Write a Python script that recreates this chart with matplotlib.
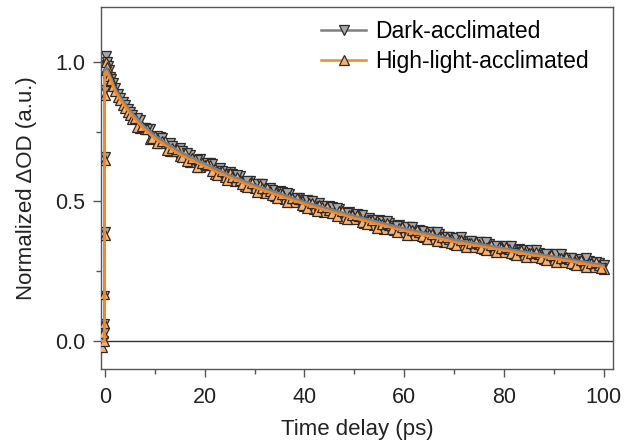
import numpy as np
import matplotlib
matplotlib.use("Agg")
import matplotlib.pyplot as plt
from matplotlib.lines import Line2D

plt.rcParams["font.family"] = ["Liberation Sans", "DejaVu Sans"]

# ─── Data ─────────────────────────────────────────────────────────────────────

t_early = [-0.8, -0.6, -0.4, -0.3, -0.2, -0.15, -0.1, -0.05, 0.0, 0.1, 0.2, 0.3,
           0.5, 0.7, 1.0, 1.2, 1.5, 2.0, 2.5, 3.0, 3.5, 4.0, 4.5, 5.0, 5.5]
dark_early = [-0.02, 0.02, 0.0, 0.03, 0.06, 0.16, 0.39, 0.66, 0.90, 0.99, 1.02, 1.00,
              0.985, 0.97, 0.945, 0.94, 0.925, 0.905, 0.885, 0.87, 0.855, 0.845, 0.83,
              0.82, 0.81]
hl_early = [0.01, -0.02, 0.03, 0.0, 0.065, 0.17, 0.38, 0.65, 0.88, 0.97, 1.00, 0.98,
            0.96, 0.95, 0.93, 0.935, 0.915, 0.895, 0.875, 0.865, 0.845, 0.835, 0.82,
            0.81, 0.795]

t_main = [6, 7, 8, 9, 10, 11, 12, 13, 14, 15, 16, 17, 18, 19, 20, 21, 22, 23, 24, 25,
          26, 27, 28, 29, 30, 31, 32, 33, 34, 35, 36, 37, 38, 39, 40, 41, 42, 43, 44, 45,
          46, 47, 48, 49, 50, 51, 52, 53, 54, 55, 56, 57, 58, 59, 60, 61, 62, 63, 64, 65,
          66, 67, 68, 69, 70, 71, 72, 73, 74, 75, 76, 77, 78, 79, 80, 81, 82, 83, 84, 85,
          86, 87, 88, 89, 90, 91, 92, 93, 94, 95, 96, 97, 98, 99, 100]
dark_main = [0.796, 0.790, 0.762, 0.760, 0.730, 0.729, 0.705, 0.708, 0.684, 0.690,
             0.665, 0.668, 0.647, 0.651, 0.628, 0.636, 0.613, 0.619, 0.598, 0.604,
             0.583, 0.590, 0.569, 0.574, 0.556, 0.562, 0.545, 0.549, 0.532, 0.539,
             0.520, 0.526, 0.509, 0.513, 0.498, 0.503, 0.488, 0.493, 0.477, 0.483,
             0.468, 0.472, 0.458, 0.462, 0.447, 0.452, 0.438, 0.442, 0.429, 0.433,
             0.418, 0.424, 0.411, 0.414, 0.402, 0.407, 0.394, 0.398, 0.386, 0.391,
             0.378, 0.383, 0.371, 0.374, 0.362, 0.368, 0.356, 0.359, 0.350, 0.354,
             0.343, 0.346, 0.337, 0.341, 0.331, 0.334, 0.325, 0.328, 0.319, 0.322,
             0.313, 0.316, 0.307, 0.310, 0.301, 0.304, 0.295, 0.298, 0.289, 0.292,
             0.283, 0.286, 0.277, 0.280, 0.271]
hl_main = [0.800, 0.762, 0.759, 0.725, 0.734, 0.709, 0.716, 0.680, 0.682, 0.664,
           0.672, 0.641, 0.652, 0.624, 0.630, 0.629, 0.600, 0.606, 0.588, 0.601,
           0.572, 0.577, 0.557, 0.566, 0.548, 0.558, 0.530, 0.536, 0.519, 0.531,
           0.508, 0.515, 0.497, 0.508, 0.482, 0.494, 0.474, 0.487, 0.462, 0.471,
           0.458, 0.466, 0.441, 0.452, 0.437, 0.447, 0.421, 0.432, 0.416, 0.424,
           0.403, 0.415, 0.398, 0.406, 0.389, 0.400, 0.381, 0.390, 0.372, 0.383,
           0.366, 0.374, 0.356, 0.366, 0.349, 0.361, 0.343, 0.352, 0.337, 0.347,
           0.330, 0.340, 0.325, 0.336, 0.318, 0.329, 0.313, 0.322, 0.307, 0.317,
           0.300, 0.311, 0.295, 0.305, 0.290, 0.298, 0.283, 0.293, 0.277, 0.287,
           0.271, 0.281, 0.266, 0.274, 0.258]

t_half = [6.5, 7.5, 8.5, 9.5, 10.5, 11.5, 12.5, 13.5, 14.5, 15.5, 16.5, 17.5, 18.5,
          19.5, 20.5, 21.5, 22.5, 23.5, 24.5, 25.5, 26.5, 27.5, 28.5, 29.5, 30.5, 31.5,
          32.5, 33.5, 34.5, 35.5, 36.5, 37.5, 38.5, 39.5, 40.5, 41.5, 42.5, 43.5, 44.5,
          45.5, 46.5, 47.5, 48.5, 49.5, 50.5, 51.5, 52.5, 53.5, 54.5, 55.5, 56.5, 57.5,
          58.5, 59.5, 60.5, 61.5, 62.5, 63.5, 64.5, 65.5, 66.5, 67.5, 68.5, 69.5, 70.5,
          71.5, 72.5, 73.5, 74.5, 75.5, 76.5, 77.5, 78.5, 79.5, 80.5, 81.5, 82.5, 83.5,
          84.5, 85.5, 86.5, 87.5, 88.5, 89.5, 90.5, 91.5, 92.5, 93.5, 94.5, 95.5, 96.5,
          97.5, 98.5, 99.5]
dark_half = [0.800, 0.762, 0.760, 0.727, 0.735, 0.726, 0.694, 0.697, 0.669, 0.681,
             0.675, 0.644, 0.648, 0.623, 0.637, 0.633, 0.604, 0.609, 0.583, 0.598,
             0.595, 0.567, 0.573, 0.548, 0.563, 0.561, 0.534, 0.541, 0.517, 0.533,
             0.531, 0.504, 0.511, 0.487, 0.504, 0.503, 0.477, 0.485, 0.462, 0.479,
             0.478, 0.452, 0.460, 0.437, 0.454, 0.453, 0.427, 0.435, 0.412, 0.429,
             0.429, 0.404, 0.413, 0.391, 0.409, 0.409, 0.384, 0.393, 0.371, 0.389,
             0.389, 0.364, 0.373, 0.351, 0.370, 0.371, 0.347, 0.357, 0.336, 0.355,
             0.356, 0.332, 0.342, 0.321, 0.340, 0.341, 0.317, 0.327, 0.306, 0.325,
             0.326, 0.302, 0.312, 0.291, 0.310, 0.311, 0.287, 0.297, 0.276, 0.295,
             0.296, 0.272, 0.282, 0.261]
hl_half = [0.768, 0.770, 0.761, 0.728, 0.709, 0.717, 0.683, 0.692, 0.688, 0.660,
           0.645, 0.656, 0.624, 0.636, 0.634, 0.608, 0.595, 0.608, 0.577, 0.589,
           0.588, 0.563, 0.551, 0.565, 0.535, 0.548, 0.548, 0.524, 0.513, 0.528,
           0.499, 0.512, 0.512, 0.488, 0.478, 0.494, 0.466, 0.480, 0.481, 0.458,
           0.448, 0.464, 0.436, 0.450, 0.451, 0.428, 0.418, 0.434, 0.406, 0.420,
           0.422, 0.400, 0.391, 0.408, 0.381, 0.396, 0.398, 0.376, 0.367, 0.384,
           0.357, 0.372, 0.374, 0.352, 0.344, 0.362, 0.336, 0.352, 0.355, 0.334,
           0.326, 0.344, 0.318, 0.334, 0.337, 0.316, 0.308, 0.326, 0.300, 0.316,
           0.319, 0.298, 0.290, 0.308, 0.282, 0.298, 0.301, 0.280, 0.272, 0.290,
           0.264, 0.280, 0.283, 0.262]

# fitted curves drawn as lines
t_fit_dark = [-0.86, -0.14, -0.10, 0.3, 1, 2, 3, 5, 7.5, 10, 15, 20, 25, 30, 40,
              50, 60, 70, 80, 90, 100]
dark_fit = [0.0, 0.0, 0.97, 0.98, 0.95, 0.905, 0.875, 0.825, 0.775, 0.735, 0.678,
            0.635, 0.594, 0.558, 0.498, 0.448, 0.403, 0.363, 0.332, 0.302, 0.272]
t_fit_hl = [-0.86, -0.10, -0.06, 0.3, 1, 2, 3, 5, 7.5, 10, 15, 20, 25, 30, 40,
            50, 60, 70, 80, 90, 100]
hl_fit = [0.0, 0.0, 0.96, 0.965, 0.94, 0.895, 0.865, 0.815, 0.765, 0.725, 0.668,
          0.625, 0.585, 0.550, 0.490, 0.440, 0.395, 0.355, 0.325, 0.295, 0.265]

GRAY_LINE   = "#808080"
GRAY_FACE   = "#a8a8a8"
ORANGE_LINE = "#f0892a"
ORANGE_FACE = "#f7b070"
EDGE        = "#2a2a2a"

# ─── Plot ─────────────────────────────────────────────────────────────────────

fig = plt.figure(figsize=(6.26, 4.44), dpi=100)
ax = fig.add_axes([0.161, 0.169, 0.819, 0.815])

dark_t = t_early + t_main + t_half
dark_y = dark_early + dark_main + dark_half
hl_t = t_early + t_main + t_half
hl_y = hl_early + hl_main + hl_half

mk = dict(linestyle="none", ms=7.5, mec=EDGE, mew=0.9)
ax.plot(dark_t, dark_y, marker="v", mfc=GRAY_FACE, zorder=2, **mk)
ax.plot(hl_t, hl_y, marker="^", mfc=ORANGE_FACE, zorder=3, **mk)
ax.plot(t_fit_dark, dark_fit, color=GRAY_LINE, lw=1.8, zorder=4)
ax.plot(t_fit_hl, hl_fit, color=ORANGE_LINE, lw=1.8, zorder=5)

ax.axhline(0, color="#333333", lw=1.0, zorder=1)

ax.set_xlim(-0.86, 102.0)
ax.set_ylim(-0.1, 1.196)
ax.set_xticks([0, 20, 40, 60, 80, 100])
ax.set_xticks([10, 30, 50, 70, 90], minor=True)
ax.set_yticks([0.0, 0.5, 1.0])
ax.set_yticks([0.25, 0.75], minor=True)
ax.set_yticklabels(["0.0", "0.5", "1.0"])

for s in ax.spines.values():
    s.set_color("#555555")
    s.set_linewidth(1.0)
ax.tick_params(which="major", direction="out", length=6, width=1.0,
               color="#555555", labelsize=15.5, labelcolor="#222222")
ax.tick_params(which="minor", direction="out", length=3.5, width=1.0,
               color="#555555")
ax.tick_params(axis="x", which="major", pad=7)
ax.tick_params(axis="y", which="major", pad=5)

ax.set_xlabel("Time delay (ps)", fontsize=16, color="#222222", labelpad=8)
ax.set_ylabel("Normalized ΔOD (a.u.)", fontsize=16, color="#222222", labelpad=13)

handles = [
    Line2D([], [], color=GRAY_LINE, lw=1.8, marker="v", ms=7.5,
           mfc=GRAY_FACE, mec=EDGE, mew=0.9),
    Line2D([], [], color=ORANGE_LINE, lw=1.8, marker="^", ms=7.5,
           mfc=ORANGE_FACE, mec=EDGE, mew=0.9),
]
ax.legend(handles, ["Dark-acclimated", "High-light-acclimated"],
          loc="upper right", bbox_to_anchor=(0.984, 1.008), frameon=False,
          fontsize=16.5, handlelength=2.0, handletextpad=0.4, labelspacing=0.3,
          borderaxespad=0.4, borderpad=0.3)

plt.savefig("out.png", dpi=100)
plt.close()
